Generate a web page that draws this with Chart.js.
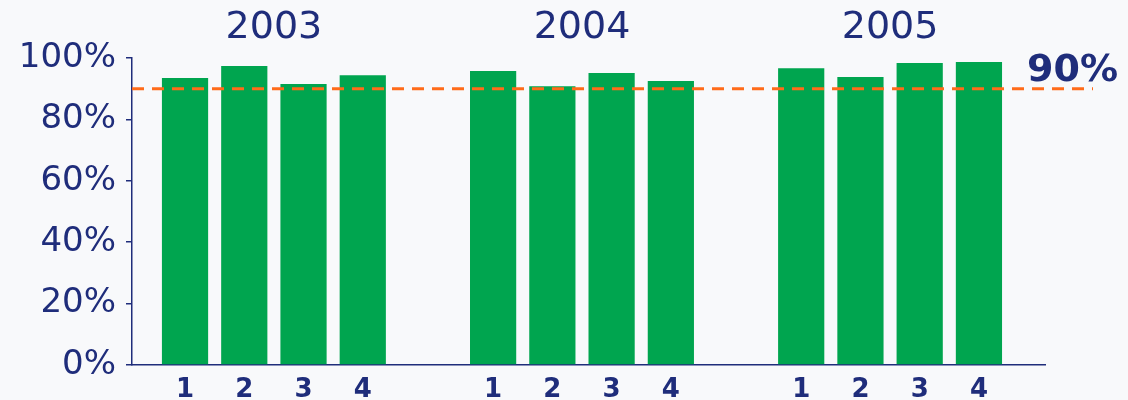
<!DOCTYPE html>
<html>
<head>
<meta charset="utf-8">
<script src="https://cdn.jsdelivr.net/npm/chart.js@4/dist/chart.umd.min.js"></script>
<style>
  body { margin: 0; background: #f8f9fb; }
  #wrap { width: 1128px; height: 400px; }
</style>
</head>
<body>
<div id="wrap"><canvas id="chartQuarters"></canvas></div>
<script>
// data
var years = ["2003", "2004", "2005"];
var quarters = ["1", "2", "3", "4"];
var values2003 = [93.5, 97.4, 91.5, 94.4];
var values2004 = [95.8, 90.8, 95.1, 92.5];
var values2005 = [96.7, 93.8, 98.4, 98.7];
var target = 90;
var yTicks = [0, 20, 40, 60, 80, 100];

var navy = "#1f2d7b";
var green = "#00a54f";
var orange = "#ff6b1a";
var font = "'DejaVu Sans', sans-serif";

// quarters sit on slots 0-3, then a gap, next year, etc.
var groupStep = quarters.length + 1.2;
var allValues = [values2003, values2004, values2005];
var points = [];
var barTicks = [];
var yearTicks = [];
allValues.forEach(function (vals, g) {
  vals.forEach(function (v, q) {
    var pos = Math.round((g * groupStep + q) * 100) / 100;
    points.push({ x: pos, y: v });
    barTicks.push({ value: pos, label: quarters[q] });
  });
  yearTicks.push({ value: g * groupStep + (quarters.length - 1) / 2, label: years[g] });
});

var xMin = -0.895, xMax = 14.515;

var targetLine = {
  id: "targetLine",
  afterDatasetsDraw: function (chart) {
    var ctx = chart.ctx;
    var area = chart.chartArea;
    var y = chart.scales.y.getPixelForValue(target);
    ctx.save();
    ctx.strokeStyle = orange;
    ctx.lineWidth = 3;
    ctx.setLineDash([12, 8]);
    ctx.beginPath();
    ctx.moveTo(area.left, y);
    ctx.lineTo(area.right + 48, y);
    ctx.stroke();
    ctx.setLineDash([]);
    ctx.fillStyle = navy;
    ctx.font = "bold 38px " + font;
    ctx.textAlign = "right";
    ctx.textBaseline = "alphabetic";
    ctx.fillText(target + "%", chart.width - 10, y - 8);
    ctx.restore();
  }
};

function labelFor(list, v) {
  var t = list.find(function (b) { return Math.abs(b.value - v) < 0.001; });
  return t ? t.label : "";
}

var ctx = document.getElementById("chartQuarters").getContext("2d");
var myChart = new Chart(ctx, {
  type: "bar",
  data: {
    datasets: [{
      data: points,
      backgroundColor: green,
      borderWidth: 0,
      barPercentage: 0.78,
      categoryPercentage: 1
    }]
  },
  options: {
    responsive: true,
    maintainAspectRatio: false,
    animation: false,
    layout: { padding: { left: 0, right: 83, top: 0, bottom: 0 } },
    plugins: { legend: { display: false }, tooltip: { enabled: false } },
    scales: {
      x: {
        type: "linear",
        position: "bottom",
        offset: false,
        min: xMin,
        max: xMax,
        afterBuildTicks: function (s) { s.ticks = barTicks.map(function (t) { return { value: t.value }; }); },
        afterFit: function (s) { s.height = 35; },
        ticks: {
          autoSkip: false,
          maxRotation: 0,
          padding: 10,
          color: navy,
          font: { family: font, size: 26, weight: "bold" },
          callback: function (v) { return labelFor(barTicks, v); }
        },
        grid: { display: false, drawTicks: false },
        border: { display: true, color: navy, width: 1.5 }
      },
      xTop: {
        type: "linear",
        position: "top",
        offset: false,
        min: xMin,
        max: xMax,
        afterBuildTicks: function (s) { s.ticks = yearTicks.map(function (t) { return { value: t.value }; }); },
        afterFit: function (s) { s.height = 58; },
        ticks: {
          autoSkip: false,
          maxRotation: 0,
          padding: 7,
          color: navy,
          font: { family: font, size: 38 },
          callback: function (v) { return labelFor(yearTicks, v); }
        },
        grid: { display: false, drawTicks: false },
        border: { display: false }
      },
      y: {
        min: 0,
        max: 100,
        afterBuildTicks: function (s) { s.ticks = yTicks.map(function (v) { return { value: v }; }); },
        afterFit: function (s) { s.width = 132; },
        ticks: {
          padding: 10,
          color: navy,
          font: { family: font, size: 34 },
          callback: function (v) { return v + "%"; }
        },
        grid: { drawOnChartArea: false, drawTicks: true, tickLength: 6, color: navy, lineWidth: 1.5 },
        border: { display: true, color: navy, width: 1.5 }
      }
    }
  },
  plugins: [targetLine]
});
</script>
</body>
</html>
